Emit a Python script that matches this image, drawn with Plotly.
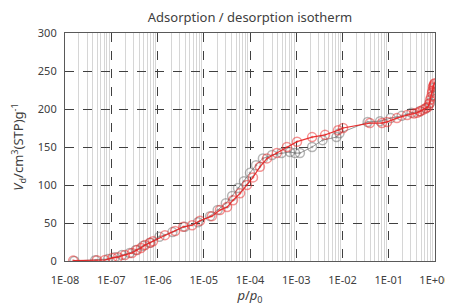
import plotly.graph_objects as go

# Adsorption branch (grey)
ads_p = [1.6e-8, 4.5e-8, 8.5e-8, 1.2e-7, 1.7e-7, 2.5e-7, 3.4e-7, 4.9e-7, 6.9e-7, 1.1e-6,
         2.1e-6, 3.9e-6, 7.5e-6, 1.37e-5, 2.0e-5, 3.0e-5, 4.1e-5, 5.5e-5, 7.4e-5, 1.0e-4,
         1.35e-4, 1.9e-4, 3.0e-4, 4.8e-4, 7.3e-4, 9.4e-4, 1.2e-3, 2.2e-3, 3.7e-3, 7.4e-3,
         8.6e-3, 3.5e-2, 6.5e-2, 0.11, 0.19, 0.31, 0.47, 0.64, 0.78, 0.91, 0.95]
ads_v = [0, 1, 2.5, 5, 8, 10.5, 14.5, 20, 24, 32,
         38, 45, 51, 59, 67, 76, 85.5, 96, 105, 116,
         126, 135, 139.5, 142, 143.5, 142, 142, 150, 159, 163,
         168, 183, 184, 188, 191, 195, 197, 201, 208, 218, 228]

# Desorption branch (red)
des_p = [1.5e-8, 4.9e-8, 7.3e-8, 1.05e-7, 1.4e-7, 1.98e-7, 2.8e-7, 3.6e-7, 4.4e-7, 5.4e-7,
         6.9e-7, 8.0e-7, 1.45e-6, 2.4e-6, 3.6e-6, 5.6e-6, 8.3e-6, 1.5e-5, 2.24e-5, 3.2e-5,
         4.3e-5, 6.1e-5, 8.6e-5, 1.16e-4, 1.64e-4, 2.33e-4, 3.8e-4, 6.3e-4, 1.04e-3, 2.2e-3,
         4.2e-3, 8.0e-3, 1.03e-2, 3.9e-2, 7.1e-2, 9.2e-2, 0.15, 0.25, 0.35, 0.41, 0.48, 0.55,
         0.63, 0.71, 0.75, 0.78, 0.82, 0.86, 0.88, 0.905, 0.93, 0.96, 0.99]
des_v = [0.5, 1, 1.3, 4, 5, 8, 10.5, 14.5, 17, 21,
         24, 26, 34, 39.5, 45, 47, 53, 59, 67, 71,
         80, 89, 100, 110, 124, 135, 142, 150, 157, 163,
         166, 172, 175, 181.5, 181.5, 183, 188, 192, 194, 195, 197, 199,
         201, 203, 207, 212, 216, 221, 224, 229, 231, 233, 234]

x_ticks = [1e-8, 1e-7, 1e-6, 1e-5, 1e-4, 1e-3, 1e-2, 1e-1, 1e0]
x_labels = ["1E-08", "1E-07", "1E-06", "1E-05", "1E-04", "1E-03", "1E-02", "1E-01", "1E+00"]

minor_vals = [m * d for d in x_ticks[:-1] for m in range(2, 10)]

fig = go.Figure()
fig.add_trace(go.Scatter(
    x=ads_p, y=ads_v, mode="lines+markers",
    line=dict(color="rgba(110,110,110,0.7)", width=1),
    marker=dict(symbol="circle-open-dot", size=9,
                color="rgba(110,110,110,0.5)",
                line=dict(color="rgba(110,110,110,0.6)", width=1.5)),
    showlegend=False))
fig.add_trace(go.Scatter(
    x=des_p, y=des_v, mode="lines+markers",
    line=dict(color="rgba(230,30,30,0.9)", width=1.2),
    marker=dict(symbol="circle-open-dot", size=9,
                color="rgba(235,40,40,0.5)",
                line=dict(color="rgba(235,40,40,0.7)", width=1.5)),
    showlegend=False))

# page has an 8px body margin, so the figure is sized to the visible area
W, H = 445, 298
axis_font = dict(family="Noto Sans", size=11, color="#404040")
fig.update_layout(
    width=W, height=H,
    margin=dict(l=57, r=18, t=25, b=45),
    paper_bgcolor="white", plot_bgcolor="white",
    font=axis_font,
    title=dict(text="Adsorption / desorption isotherm", x=242/W, xanchor="center",
               y=1 - 9/H, yanchor="middle",
               font=dict(family="Noto Sans", size=13, color="#404040")),
    xaxis=dict(type="log", range=[-8, 0], tickmode="array", tickvals=x_ticks,
               ticktext=x_labels, showgrid=True, gridcolor="#404040", griddash="dash",
               gridwidth=1, showline=True, linecolor="#595959", linewidth=1.2, mirror=True,
               ticks="", zeroline=False, automargin=False, ticklabelstandoff=9,
               ticklabeloverflow="allow",
               minor=dict(tickmode="array", tickvals=minor_vals, showgrid=True,
                          gridcolor="#d6d6d6", gridwidth=1, griddash="solid", ticks=""),
               title=dict(text="<i>p</i>/<i>p</i><sub>0</sub>", standoff=10,
                          font=dict(family="Noto Sans", size=13, color="#404040"))),
    yaxis=dict(range=[0, 300], dtick=50, showgrid=True, gridcolor="#404040",
               griddash="dash", gridwidth=1, showline=True, linecolor="#595959",
               linewidth=1.2, mirror=True, ticks="", zeroline=False, automargin=False,
               ticklabelstandoff=5,
               title=dict(text="<i>V</i><sub>d</sub>/cm<sup>3</sup>(STP)g<sup>-1</sup>",
                          standoff=19,
                          font=dict(family="Noto Sans", size=13, color="#404040"))),
)

fig.write_html("out.html")
